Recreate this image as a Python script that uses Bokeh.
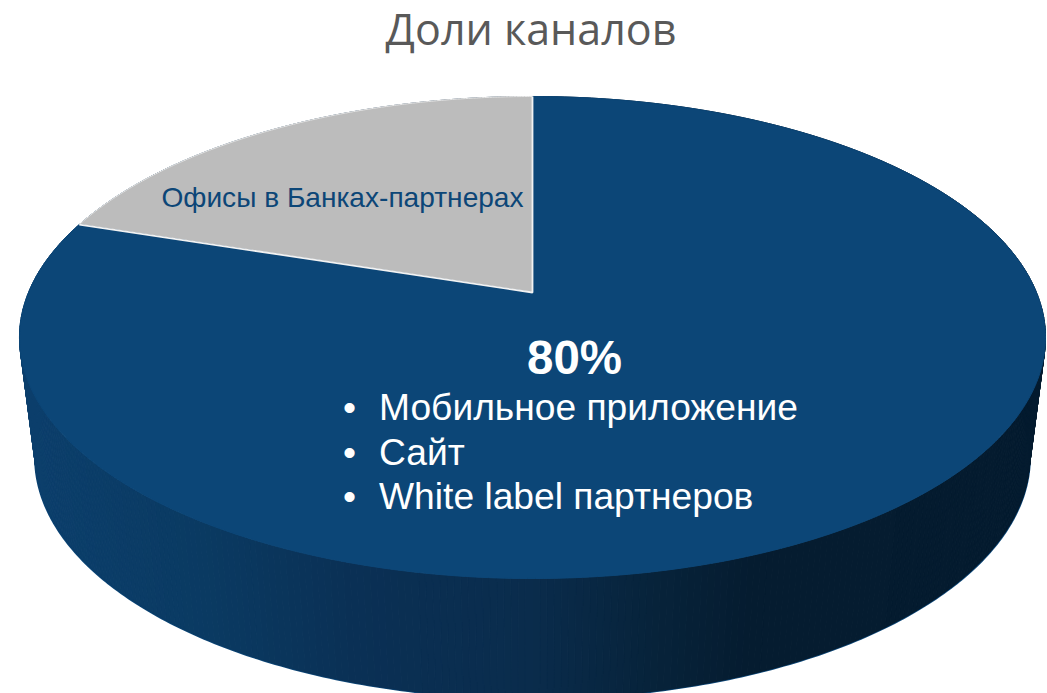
import numpy as np
from bokeh.plotting import figure
from bokeh.embed import file_html
from bokeh.resources import INLINE
from bokeh.core.properties import value

# ---- data
title_text = "Доли каналов"
slice_names = ["Офисы в Банках-партнерах", "Каналы"]
slice_shares = [20, 80]
slice_colors = ["#BCBCBC", "#0C4677"]
main_label = "80%"
bullets = ["Мобильное приложение", "Сайт", "White label партнеров"]

# ---- layout / projection of the tilted disc (screen pixels)
W, H = 1047, 693
CX, APEX_Y, A, B, K = 532.0, 292.0, 504.0, 232.6, 0.1867
DEPTH, BASE_SCALE = 120.0, 0.969
STOPS_X = [18, 200, 350, 530, 650, 750, 1045]
STOPS_RGB = [(12, 63, 108), (10, 58, 98), (10, 48, 85), (10, 44, 76), (7, 35, 59), (5, 28, 48), (4, 27, 47)]
BASE_SHIFT = 0.4  # share of the font size by which the page drops text below the given y


def project(theta):
    u, v = np.sin(theta), np.cos(theta)
    w = 1 + K * v
    return CX + A * u / w, APEX_Y - B * v / w


p = figure(width=W, height=H, x_range=(0, W), y_range=(H, 0),
           output_backend="svg", toolbar_location=None, min_border=0)
p.axis.visible = False
p.grid.visible = False
p.outline_line_color = None
p.background_fill_color = "white"
p.border_fill_color = "white"

# side wall
angles = np.linspace(0, 2 * np.pi, 541)
tx, ty = project(angles)
bx = CX + (tx - CX) * BASE_SCALE
by = ty + DEPTH
p.line(bx, by, line_color="#0C4677", line_width=2.5)
xs, ys, cols = [], [], []
for i in range(len(angles) - 1):
    mid = (tx[i] + tx[i + 1]) / 2
    c = [np.interp(mid, STOPS_X, [s[j] for s in STOPS_RGB]) for j in range(3)]
    xs.append([tx[i], tx[i + 1], bx[i + 1], bx[i]])
    ys.append([ty[i], ty[i + 1], by[i + 1], by[i]])
    cols.append("#%02x%02x%02x" % tuple(int(round(x)) for x in c))
p.patches(xs, ys, fill_color=cols, line_color=cols, line_width=1)

# top surface: slices start at the far point and the first one runs counter-clockwise
start = 0.0
total = sum(slice_shares)
for share, col in zip(slice_shares, slice_colors):
    end = start - 2 * np.pi * share / total
    th = np.linspace(start, end, 400)
    x, y = project(th)
    p.patch(np.r_[CX, x], np.r_[APEX_Y, y], fill_color=col, line_color=col, line_width=1)
    start = end

# white edge of the grey slice
th = np.linspace(0, -2 * np.pi * slice_shares[0] / total, 200)
x, y = project(th)
p.line(np.r_[x[-1], CX, x[0]], np.r_[y[-1], APEX_Y, y[0]], line_color="#F2F2F2", line_width=1.8)
p.line(x, y, line_color="#E6E6E6", line_width=1)


def label(x, base, txt, size, color, align="center", font="Liberation Sans", style="normal"):
    p.text([x], [base - BASE_SHIFT * size], text=[txt], text_font=value(font), text_font_size=f"{size}px",
           text_font_style=style, text_color=color, text_align=align, text_baseline="alphabetic")


label(530.5, 45, title_text, 43, "#595959", font="Open Sans")
label(342, 208, slice_names[0], 28.1, "#0C4677")
label(574, 376, main_label, 47.5, "white", style="bold")
for base, b in zip([421, 466, 510], bullets):
    label(349, base, "•", 37.2, "white")
    label(378.5, base, b, 37.2, "white", align="left")

open("out.html", "w").write(file_html(p, INLINE))
